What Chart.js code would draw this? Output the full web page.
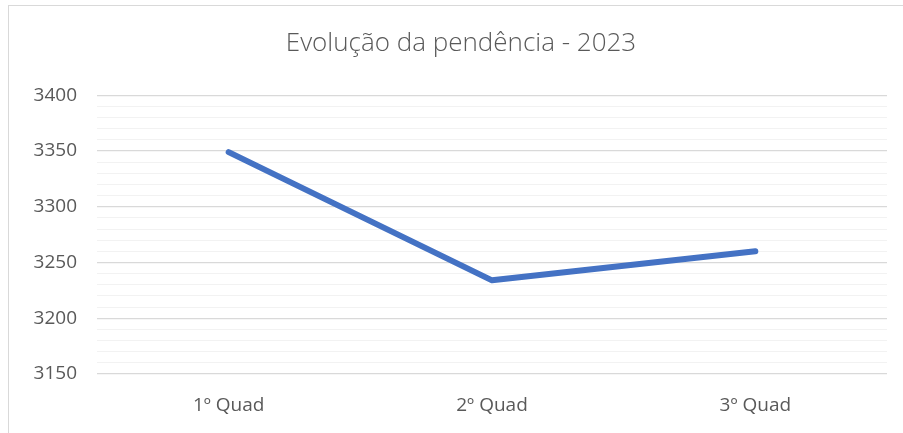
<!DOCTYPE html>
<html lang="pt">
<head>
    <meta charset="UTF-8">
    <title>Evolução da pendência - 2023</title>
    <script src="https://cdn.jsdelivr.net/npm/chart.js"></script>
    <style>
        body { margin: 0; background: #fff; overflow: hidden; }
        #box {
            position: absolute;
            left: 8px;
            top: 5px;
            width: 906px;
            height: 440px;
            border: 1px solid #d9d9d9;
            box-sizing: border-box;
        }
        #wrap { position: absolute; left: 0; top: 0; width: 904px; height: 428px; }
    </style>
</head>
<body>
    <div id="box"><div id="wrap"><canvas id="myChart"></canvas></div></div>
    <script>
        const categories = ['1º Quad', '2º Quad', '3º Quad'];
        const pendencia = [3349, 3234, 3260];
        const yMin = 3150;
        const yMax = 3400;
        const majorStep = 50;
        const minorStep = 10;

        const textColor = '#595959';
        const fontFamily = '"Open Sans", sans-serif';

        const ctx = document.getElementById('myChart').getContext('2d');
        new Chart(ctx, {
            type: 'line',
            data: {
                labels: categories,
                datasets: [{
                    label: 'Pendência',
                    data: pendencia,
                    borderColor: '#4472C4',
                    borderWidth: 6,
                    borderCapStyle: 'round',
                    borderJoinStyle: 'round',
                    pointRadius: 0,
                    tension: 0,
                    fill: false
                }]
            },
            options: {
                responsive: true,
                maintainAspectRatio: false,
                animation: false,
                layout: { padding: 0 },
                plugins: {
                    legend: { display: false },
                    tooltip: { enabled: false },
                    title: {
                        display: true,
                        text: 'Evolução da pendência - 2023',
                        color: textColor,
                        font: { family: fontFamily, size: 26, weight: '300', lineHeight: 1.2 },
                        padding: { top: 22, bottom: 36 }
                    }
                },
                scales: {
                    x: {
                        offset: true,
                        grid: { display: false },
                        border: { display: false },
                        afterFit: function (scale) { scale.height = 60; },
                        ticks: {
                            color: textColor,
                            font: { family: fontFamily, size: 19 },
                            padding: 12
                        }
                    },
                    y: {
                        min: yMin,
                        max: yMax,
                        border: { display: false },
                        afterFit: function (scale) { scale.width = 88; },
                        grid: {
                            drawTicks: false,
                            color: function (c) {
                                return c.tick.value % majorStep === 0 ? '#d9d9d9' : '#f2f2f2';
                            },
                            lineWidth: function (c) {
                                return c.tick.value % majorStep === 0 ? 1.3 : 1;
                            }
                        },
                        ticks: {
                            stepSize: minorStep,
                            autoSkip: false,
                            color: textColor,
                            font: { family: fontFamily, size: 19 },
                            padding: 20,
                            callback: function (v) {
                                return v % majorStep === 0 ? v : '';
                            }
                        }
                    },
                    // empty right margin so the title stays centred on the whole box
                    spacer: {
                        position: 'right',
                        grid: { display: false },
                        border: { display: false },
                        ticks: { display: false },
                        afterFit: function (scale) { scale.width = 26; }
                    }
                }
            }
        });
    </script>
</body>
</html>
